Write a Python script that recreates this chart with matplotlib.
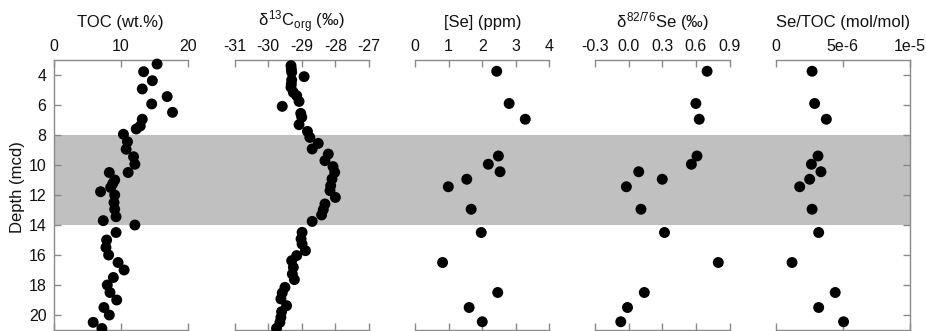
import matplotlib
matplotlib.use("Agg")
import matplotlib.pyplot as plt

plt.rcParams['font.family'] = ['Liberation Sans', 'DejaVu Sans']
plt.rcParams['mathtext.fontset'] = 'custom'
plt.rcParams['mathtext.rm'] = 'Liberation Sans'
plt.rcParams['mathtext.it'] = 'Liberation Sans'
plt.rcParams['axes.unicode_minus'] = False

# ---------------- data ----------------
toc_depth = [3.27, 3.78, 4.38, 4.93, 5.44, 5.93, 6.49, 6.95, 7.4, 7.6, 7.95, 8.45, 8.95,
             9.45, 9.95, 10.5, 10.5, 11.0, 11.25, 11.5, 11.78, 12.0, 12.5, 12.95, 13.45,
             13.71, 14.0, 14.5, 15.0, 15.5, 16.0, 16.5, 17.0, 17.5, 18.0, 18.5, 19.0,
             19.5, 20.0, 20.49, 20.9]
toc = [15.4, 13.4, 14.7, 13.2, 16.9, 14.6, 17.7, 13.2, 12.9, 12.3, 10.4, 11.0, 10.8,
       11.9, 12.1, 11.1, 8.3, 9.1, 8.8, 8.5, 7.0, 9.1, 9.0, 9.1, 9.3,
       7.4, 12.1, 9.3, 7.9, 7.8, 8.2, 9.6, 10.5, 8.9, 8.0, 8.4, 9.4,
       7.5, 8.3, 5.9, 7.2]

d13c_depth = [3.38, 3.6, 3.82, 4.11, 4.33, 4.6, 4.82, 5.16, 5.38, 5.76, 6.09, 6.56, 6.82,
              7.31, 7.76, 8.16, 8.56, 8.93, 9.27, 9.71, 10.11, 10.49, 10.93, 11.38, 11.71,
              12.16, 12.6, 12.98, 13.33, 13.76, 14.49, 14.93, 15.27, 15.71, 16.04,
              16.38, 16.82, 17.27, 17.64, 18.16, 18.53, 18.93, 19.38, 19.78, 20.16,
              20.49, 20.89]
d13c = [-29.32, -29.31, -29.30, -28.93, -29.30, -29.31, -29.32, -29.25, -29.15, -29.08,
        -29.58, -29.03, -29.0, -29.08, -28.83, -28.76, -28.51, -28.69, -28.21, -28.31,
        -28.07, -28.02, -28.1, -28.14, -28.16, -28.0, -28.31, -28.36, -28.41, -28.69,
        -28.99, -29.02, -28.99, -28.89, -29.15, -29.30, -29.25, -29.28, -29.22, -29.5,
        -29.58, -29.62, -29.45, -29.6, -29.62, -29.65, -29.75]

se_depth = [3.75, 5.9, 6.95, 9.4, 9.95, 10.45, 10.95, 11.45, 12.95, 14.5, 16.5, 18.5,
            19.5, 20.45]
se_ppm = [2.43, 2.8, 3.28, 2.48, 2.18, 2.53, 1.54, 0.99, 1.67, 1.97, 0.82, 2.46, 1.61, 2.0]
d82se = [0.70, 0.60, 0.63, 0.61, 0.56, 0.09, 0.30, -0.02, 0.11, 0.32, 0.80, 0.14,
         -0.01, -0.07]
se_toc = [2.72e-6, 2.91e-6, 3.78e-6, 3.16e-6, 2.67e-6, 3.38e-6, 2.54e-6, 1.80e-6,
          2.72e-6, 3.21e-6, 1.23e-6, 4.44e-6, 3.21e-6, 5.06e-6]

titles = ['TOC (wt.%)', r'$\delta^{13}$C$_{\rm org}$ (‰)', '[Se] (ppm)',
          r'$\delta^{82/76}$Se (‰)', 'Se/TOC (mol/mol)']
xticks = [[0, 10, 20], [-31, -30, -29, -28, -27], [0, 1, 2, 3, 4],
          [-0.3, 0.0, 0.3, 0.6, 0.9], [0, 5e-6, 1e-5]]
xticklabels = [['0', '10', '20'], ['-31', '-30', '-29', '-28', '-27'],
               ['0', '1', '2', '3', '4'], ['-0.3', '0.0', '0.3', '0.6', '0.9'],
               ['0', '5e-6', '1e-5']]
yticks = [4, 6, 8, 10, 12, 14, 16, 18, 20]
band = (8, 14)

series = [(toc, toc_depth), (d13c, d13c_depth), (se_ppm, se_depth),
          (d82se, se_depth), (se_toc, se_depth)]

# ---------------- layout ----------------
W, H = 926, 331
fig = plt.figure(figsize=(W / 100, H / 100), dpi=100)

top_px, bot_px = 60, 330
pw = 134.5
lefts = [53.5, 234.5, 415.0, 595.0, 775.5]
spine_c = '#8a8a8a'

def frac_rect(x0, x1):
    return [x0 / W, (H - bot_px) / H, (x1 - x0) / W, (bot_px - top_px) / H]

# background band axis
bg = fig.add_axes(frac_rect(lefts[0], lefts[-1] + pw), zorder=0)
bg.set_ylim(21, 3)
bg.set_xlim(0, 1)
bg.axhspan(band[0], band[1], color='#c0c0c0', lw=0)
bg.axis('off')

for i, ((vals, dep), ttl, xt, xtl) in enumerate(zip(series, titles, xticks, xticklabels)):
    ax = fig.add_axes(frac_rect(lefts[i], lefts[i] + pw), zorder=2)
    ax.patch.set_alpha(0)
    ax.scatter(vals, dep, s=62, color='black', edgecolors='none', zorder=3, clip_on=False)
    ax.set_xlim(xt[0], xt[-1])
    ax.set_ylim(21, 3)
    for s in ax.spines.values():
        s.set_color(spine_c)
        s.set_linewidth(1.0)
    ax.spines['left'].set_visible(i == 0)
    ax.spines['right'].set_visible(i == 4)
    ax.set_xticks(xt)
    ax.set_xticklabels(xtl)
    ax.tick_params(axis='x', which='both', top=True, bottom=True, labeltop=True,
                   labelbottom=False, direction='in', length=5, width=1,
                   color=spine_c, labelsize=11.5, pad=4, labelcolor='#111111')
    ax.set_yticks(yticks)
    if i == 0:
        ax.tick_params(axis='y', left=True, right=False, labelleft=True, direction='in',
                       length=5, width=1, color=spine_c, labelsize=11.5, pad=5,
                       labelcolor='#111111')
    elif i == 4:
        ax.tick_params(axis='y', left=False, right=True, labelleft=False, labelright=False,
                       direction='in', length=5, width=1, color=spine_c)
    else:
        ax.tick_params(axis='y', left=False, right=False, labelleft=False)
    cx = (lefts[i] + pw / 2) / W
    fig.text(cx, 1 - 22 / H, ttl, ha='center', va='center', fontsize=12, color='#111111')

fig.text(18 / W, 1 - 187 / H, 'Depth (mcd)', rotation=90, ha='center', va='center',
         fontsize=12, color='#111111')

fig.savefig('out.png', dpi=100)
